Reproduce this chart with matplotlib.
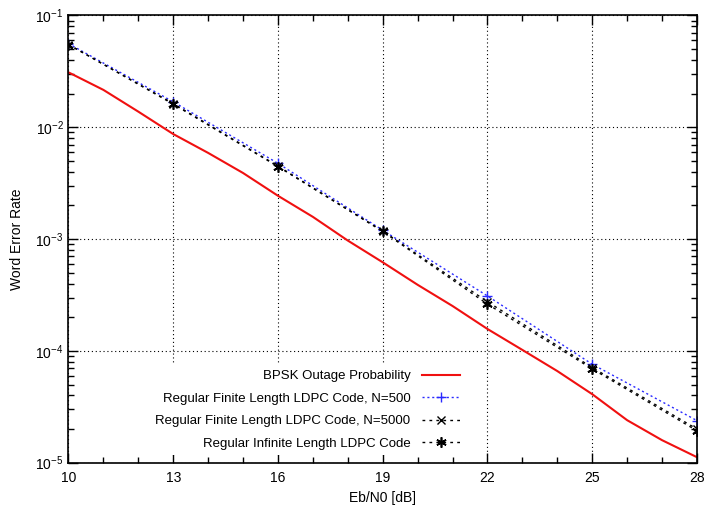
import matplotlib
matplotlib.use("Agg")
from matplotlib import pyplot as plt
from matplotlib.ticker import FixedLocator, LogLocator, NullFormatter

plt.rcParams["font.family"] = ["Liberation Sans", "DejaVu Sans"]
plt.rcParams["font.size"] = 10
plt.rcParams["axes.unicode_minus"] = False

# BPSK outage probability, one point per dB
snr_outage = [10, 11, 12, 13, 14, 15, 16, 17, 18, 19,
              20, 21, 22, 23, 24, 25, 26, 27, 28]
wer_outage = [3.10e-2, 2.16e-2, 1.38e-2, 8.7e-3, 5.9e-3, 3.9e-3, 2.44e-3,
              1.58e-3, 9.7e-4, 6.2e-4, 3.9e-4, 2.52e-4, 1.57e-4, 1.02e-4,
              6.6e-5, 4.1e-5, 2.4e-5, 1.59e-5, 1.12e-5]

# LDPC results, every 3 dB
snr_ldpc = [10, 13, 16, 19, 22, 25, 28]
wer_n500 = [5.6e-2, 1.69e-2, 4.76e-3, 1.20e-3, 3.1e-4, 7.6e-5, 2.38e-5]
wer_n5000 = [5.5e-2, 1.63e-2, 4.5e-3, 1.18e-3, 2.75e-4, 7.1e-5, 2.0e-5]
wer_inf = [5.5e-2, 1.61e-2, 4.45e-3, 1.17e-3, 2.62e-4, 6.9e-5, 1.93e-5]

labels = ["BPSK Outage Probability",
          "Regular Finite Length LDPC Code, N=500",
          "Regular Finite Length LDPC Code, N=5000",
          "Regular Infinite Length LDPC Code"]

fig = plt.figure(figsize=(7.04, 5.08), dpi=100)
ax = fig.add_axes([0.0973, 0.0892, 0.8927, 0.8803])

ax.plot(snr_outage, wer_outage, color="#f01010", lw=1.5, label=labels[0])
ax.plot(snr_ldpc, wer_n500, color="#2a2aff", lw=1.0, ls=(0, (1.5, 2)),
        marker="+", ms=7, mew=1.0, label=labels[1])
ax.plot(snr_ldpc, wer_n5000, color="black", lw=1.0, ls=(0, (2, 3)),
        marker="x", ms=5.5, mew=1.0, label=labels[2])
ax.plot(snr_ldpc, wer_inf, color="black", lw=1.0, ls=(0, (2, 3)),
        marker=(6, 2, 0), ms=7.5, mew=1.2, label=labels[3])

ax.set_yscale("log")
ax.set_xlim(10, 28)
ax.set_ylim(1e-5, 1e-1)
ax.set_xticks(snr_ldpc)
ax.xaxis.set_minor_locator(FixedLocator(range(10, 29)))
ax.yaxis.set_minor_locator(LogLocator(base=10, subs=range(2, 10)))
ax.yaxis.set_minor_formatter(NullFormatter())

ax.tick_params(which="both", direction="in", top=True, right=True)
ax.tick_params(which="major", length=7, width=1)
ax.tick_params(which="minor", length=4, width=1)
ax.tick_params(axis="x", pad=6)

ax.grid(True, which="major", color="black", lw=0.8, ls=(0, (1, 2.5)))
ax.set_axisbelow(True)
for sp in ax.spines.values():
    sp.set_linewidth(1.2)

ax.set_xlabel("Eb/N0 [dB]", labelpad=4)
ax.set_ylabel("Word Error Rate", labelpad=8)

leg = ax.legend(loc="center right", bbox_to_anchor=(0.632, 0.118),
                borderaxespad=0, borderpad=0.4, markerfirst=False,
                fontsize=9.5, handlelength=2.9, handletextpad=0.9,
                labelspacing=0.78, numpoints=1, frameon=True, fancybox=False)
leg.get_frame().set_facecolor("white")
leg.get_frame().set_edgecolor("none")
leg.get_frame().set_alpha(1)

fig.savefig("out.png", dpi=100)
